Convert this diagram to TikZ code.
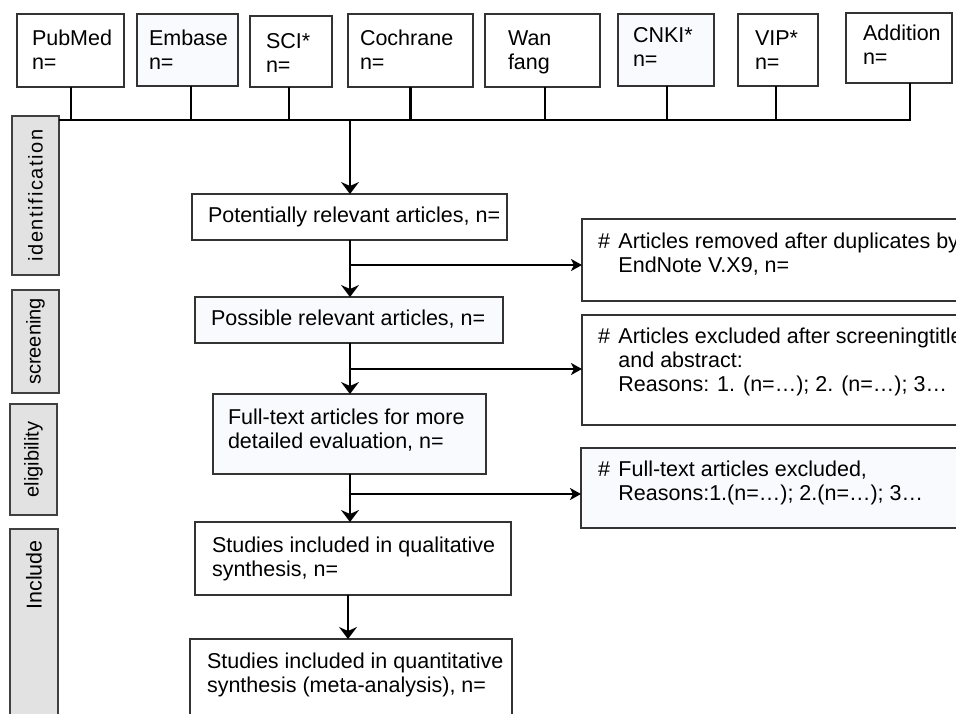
\documentclass[tikz,border=0pt]{standalone}
\usepackage{fontspec}
\setmainfont{Liberation Sans}
\newfontfamily\spacedfont[LetterSpace=8]{Liberation Sans}
\usetikzlibrary{arrows.meta}
\definecolor{stagegrey}{HTML}{E2E2E2}
\definecolor{boxtint}{HTML}{F8FAFD}
\newcommand{\mybody}{\fontsize{21.5}{24}\selectfont}
\newcommand{\mystage}{\fontsize{20}{24}\selectfont}
\newcommand{\ml}[1]{\begin{tabular}[t]{@{}l@{}}#1\end{tabular}}
\newcommand{\hl}[1]{\begin{tabular}[t]{@{}l@{\hspace{8.5pt}}l@{}}#1\end{tabular}}
\begin{document}
\begin{tikzpicture}[x=1pt,y=-1pt,
  box/.style={draw=black!80, line width=1.3pt, fill=white, inner sep=0pt, outer sep=0pt, anchor=north west},
  tint/.style={fill=boxtint},
  stagebox/.style={draw=black!75, line width=1.2pt, fill=stagegrey, inner sep=0pt, outer sep=0pt, anchor=north west},
  txt/.style={inner sep=0pt, outer sep=0pt, anchor=base west, font=\mybody},
  stagetxt/.style={inner sep=0pt, rotate=90, font=\mystage},
  conn/.style={line width=2.6pt},
  busline/.style={line width=2pt},
  mainarrow/.style={line width=2.6pt, -{Stealth[length=12pt,width=18pt,inset=4pt]}},
  sidearrow/.style={line width=1.8pt, -{Stealth[length=11pt,width=12pt,inset=3pt]}},
]
\useasboundingbox (0,0) rectangle (956,713);
\fill[white] (0,0) rectangle (956,713);
\clip (0,0) rectangle (956,713);

% ---- database boxes
\node[box, minimum width=107pt, minimum height=73pt] (pubmed) at (17,14) {};
\node[box, tint, minimum width=101pt, minimum height=72pt] (embase) at (137,14) {};
\node[box, minimum width=82pt, minimum height=71pt] (sci) at (250,16) {};
\node[box, minimum width=125pt, minimum height=73pt] (cochrane) at (348,14) {};
\node[box, minimum width=115pt, minimum height=73pt] (wanfang) at (485,14) {};
\node[box, tint, minimum width=96pt, minimum height=72pt] (cnki) at (618,14) {};
\node[box, minimum width=80pt, minimum height=72pt] (vip) at (738,14) {};
\node[box, minimum width=106pt, minimum height=70pt] (addition) at (846,13) {};

\node[txt] (tpubmed) at (32,45) {\ml{PubMed\\n=}};
\node[txt] (tembase) at (149,45) {\ml{Embase\\n=}};
\node[txt] (tsci) at (266,48) {\ml{SCI*\\n=}};
\node[txt] (tcochrane) at (360,45) {\ml{Cochrane\\n=}};
\node[txt] (twanfang) at (508,45) {\ml{Wan\\fang}};
\node[txt] (tcnki) at (633,42) {\ml{CNKI*\\n=}};
\node[txt] (tvip) at (755,45) {\ml{VIP*\\n=}};
\node[txt] (taddition) at (863,40) {\ml{Addition\\n=}};

% ---- stage labels
\node[stagebox, minimum width=47pt, minimum height=159pt] (ident) at (12,116) {};
\node[stagebox, minimum width=47pt, minimum height=103pt] (screen) at (12,290) {};
\node[stagebox, minimum width=47pt, minimum height=111pt] (elig) at (10,404) {};
\node[stagebox, minimum width=48pt, minimum height=220pt] (incl) at (10,529) {};
\node[stagetxt, font=\mystage\spacedfont] (tident) at (ident.center) {identification};
\node[stagetxt] (tscreen) at (screen.center) {screening};
\node[stagetxt] (telig) at (elig.center) {eligibility};
\node[stagetxt, font=\fontsize{21.5}{24}\selectfont] (tincl) at (34,575) {Include};

% ---- bus
\coordinate (busL) at (ident.north east |- 0,120);
\coordinate (busR) at (910,120);
\coordinate (trunk) at (350,120);
\draw[busline] (busL) -- (busR);
\draw[conn] ([xshift=0.5pt]pubmed.south) -- ([xshift=0.5pt]pubmed.south |- busL);
\draw[conn] ([xshift=3.5pt]embase.south) -- ([xshift=3.5pt]embase.south |- busL);
\draw[conn] ([xshift=-2pt]sci.south) -- ([xshift=-2pt]sci.south |- busL);
\draw[conn] (cochrane.south) -- (cochrane.south |- busL);
\draw[conn] ([xshift=2.5pt]wanfang.south) -- ([xshift=2.5pt]wanfang.south |- busL);
\draw[conn] ([xshift=1pt]cnki.south) -- ([xshift=1pt]cnki.south |- busL);
\draw[conn] ([xshift=-2pt]vip.south) -- ([xshift=-2pt]vip.south |- busL);
\draw[conn] ([xshift=11pt]addition.south) -- ([xshift=11pt,yshift=-1pt]addition.south |- busL);

% ---- main column
\node[box, minimum width=315pt, minimum height=46pt] (pot) at (192,194) {};
\node[box, tint, minimum width=308pt, minimum height=46pt] (pos) at (195,297) {};
\node[box, tint, minimum width=273pt, minimum height=80pt] (full) at (213,394) {};
\node[box, minimum width=316pt, minimum height=73pt] (qual) at (195,522) {};
\node[box, minimum width=322pt, minimum height=120pt] (quant) at (190,639) {};

\node[txt] (tpot) at (208,222) {Potentially relevant articles, n=};
\node[txt] (tpos) at (211,325) {Possible relevant articles, n=};
\node[txt] (tfull) at (228,424) {\ml{Full-text articles for more\\detailed evaluation, n=}};
\node[txt] (tqual) at (212,552) {\ml{Studies included in qualitative\\synthesis, n=}};
\node[txt] (tquant) at (207,668) {\ml{Studies included in quantitative\\synthesis (meta-analysis), n=}};

% ---- exclusion boxes
\node[box, minimum width=420pt, minimum height=82pt] (rem) at (582,219) {};
\node[box, minimum width=420pt, minimum height=110pt] (excl) at (582,315) {};
\node[box, tint, minimum width=420pt, minimum height=80pt] (ftex) at (581,448) {};

\node[txt] (trem) at (598,248) {\hl{\# & Articles removed after duplicates by\\ & EndNote V.X9, n=}};
\node[txt] (texcl) at (598,343) {\hl{\# & Articles excluded after screeningtitle\\ & and abstract:\\ & Reasons: 1. (n=…); 2. (n=…); 3…}};
\node[txt] (tftex) at (598,476) {\hl{\# & Full-text articles excluded,\\ & Reasons:1.(n=…); 2.(n=…); 3…}};

% ---- arrows
\coordinate (br1) at (350,265);
\coordinate (br2) at (350,369);
\coordinate (br3) at (350,494);
\draw[mainarrow] (trunk) -- (trunk |- pot.north);
\draw[mainarrow] (trunk |- pot.south) -- (trunk |- pos.north);
\draw[mainarrow] (trunk |- pos.south) -- (trunk |- full.north);
\draw[mainarrow] (trunk |- full.south) -- (trunk |- qual.north);
\draw[mainarrow] ([xshift=-2pt]trunk |- qual.south) -- ([xshift=-2pt]trunk |- quant.north);
\draw[sidearrow] (br1) -- (br1 -| rem.west);
\draw[sidearrow] (br2) -- (br2 -| excl.west);
\draw[sidearrow] (br3) -- (br3 -| ftex.west);
\end{tikzpicture}
\end{document}
